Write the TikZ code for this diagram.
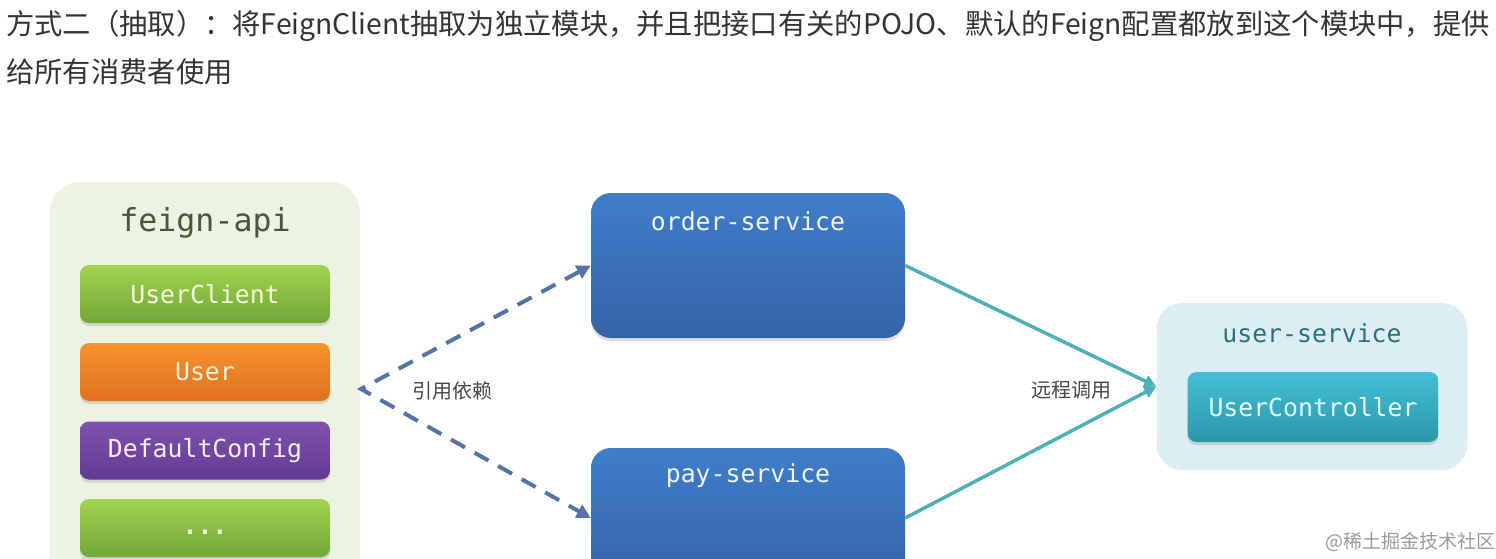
\documentclass[tikz,border=0pt]{standalone}
\usepackage{fontspec}
\newfontfamily\cjk{Noto Sans CJK SC}
\newfontfamily\mono{DejaVu Sans Mono}
\usetikzlibrary{shadows,arrows.meta}
\definecolor{apibg}{HTML}{EDF3E2}
\definecolor{apititle}{HTML}{46573A}
\definecolor{grtop}{HTML}{A2D24E}
\definecolor{grbot}{HTML}{72A73A}
\definecolor{grtxt}{HTML}{F3F9DA}
\definecolor{ortop}{HTML}{F7922E}
\definecolor{orbot}{HTML}{E0721F}
\definecolor{ortxt}{HTML}{FFF3E0}
\definecolor{putop}{HTML}{7E52AE}
\definecolor{pubot}{HTML}{623A93}
\definecolor{putxt}{HTML}{F7EEFF}
\definecolor{bltop}{HTML}{3F7DCA}
\definecolor{blbot}{HTML}{3563A7}
\definecolor{bltxt}{HTML}{F0F6FF}
\definecolor{usbg}{HTML}{DCEEF3}
\definecolor{ustitle}{HTML}{2F6E78}
\definecolor{uctop}{HTML}{44C0D6}
\definecolor{ucbot}{HTML}{2A96AA}
\definecolor{uctxt}{HTML}{E8FBFF}
\definecolor{depcol}{HTML}{5573A6}
\definecolor{callcol}{HTML}{4DB0B5}
\definecolor{titletxt}{HTML}{333333}
\definecolor{wmcol}{HTML}{9A9A9A}
\tikzset{
  monofont/.style={font=\mono\fontsize{24.8}{30}\selectfont},
  container/.style={draw=none, rounded corners=30pt, inner sep=0pt},
  blockbox/.style={draw=none, rounded corners=9pt, inner sep=0pt,
    minimum width=250pt, minimum height=58pt, monofont,
    drop shadow={opacity=0.25, shadow xshift=0pt, shadow yshift=-3pt}},
  greenbox/.style={blockbox, top color=grtop, bottom color=grbot, text=grtxt},
  orangebox/.style={blockbox, top color=ortop, bottom color=orbot, text=ortxt},
  purplebox/.style={blockbox, top color=putop, bottom color=pubot, text=putxt},
  svcbox/.style={draw=none, rounded corners=20pt, inner sep=0pt,
    minimum width=314pt, top color=bltop, bottom color=blbot,
    drop shadow={opacity=0.25, shadow xshift=0pt, shadow yshift=-3pt}},
  svclabel/.style={monofont, text=bltxt, inner sep=0pt},
  ucbox/.style={blockbox, minimum width=251pt, minimum height=70pt,
    top color=uctop, bottom color=ucbot, text=uctxt},
  deparrow/.style={draw=depcol, line width=4pt, dash pattern=on 16pt off 11pt,
    {Triangle[length=14pt,width=14pt]}-{Triangle[length=14pt,width=14pt]}},
  callarrow/.style={draw=callcol, line width=3.5pt,
    -{Triangle[length=12pt,width=12pt]}},
  cjklabel/.style={font=\cjk\fontsize{20}{24}\selectfont, text=titletxt!90, inner sep=0pt},
}
\begin{document}
\begin{tikzpicture}[x=1pt,y=-1pt]
\useasboundingbox (0,0) rectangle (1496,559);
\clip (0,0) rectangle (1496,559);
% title
\node[font=\cjk\fontsize{28.3}{33}\selectfont, text=titletxt, anchor=west, inner sep=0pt] (t1) at (6,26)
  {方式二（抽取）：将FeignClient抽取为独立模块，并且把接口有关的POJO、默认的Feign配置都放到这个模块中，提供};
\node[font=\cjk\fontsize{28.3}{33}\selectfont, text=titletxt, anchor=west, inner sep=0pt] (t2) at (6,72)
  {给所有消费者使用};
% feign-api container
\node[container, fill=apibg, minimum width=310pt, minimum height=420pt] (api) at (205,392) {};
\node[font=\mono\fontsize{31.6}{36}\selectfont, text=apititle, inner sep=0pt] (apititle) at (205,223) {feign-api};
\node[greenbox] (uclient) at (205,294) {UserClient};
\node[orangebox] (user) at (205,372) {User};
\node[purplebox] (dconf) at (205,450.5) {DefaultConfig};
\node[greenbox] (more) at (205,528) {\raisebox{-6pt}[0pt][0pt]{\textbf{...}}};
% services
\node[svcbox, minimum height=145pt] (order) at (748,265.5) {};
\node[svclabel] (ordert) at (748,221) {order-service};
\node[svcbox, minimum height=140pt] (pay) at (748,518) {};
\node[svclabel] (payt) at (748,476) {pay-service};
% user-service
\node[container, rounded corners=26pt, fill=usbg, minimum width=311pt, minimum height=167pt] (us) at (1312,386.5) {};
\node[monofont, text=ustitle, inner sep=0pt] (ust) at (1312,333) {user-service};
\node[ucbox] (uc) at (1313,407) {UserController};
% connectors
\coordinate (dep) at (361,389);
\draw[deparrow] (order.west) -- (dep) -- (pay.west);
\node[cjklabel] (deplabel) at (452,391) {引用依赖};
\draw[callarrow] (order.east) -- (us.west);
\draw[callarrow] (pay.east) -- (us.west);
\node[cjklabel] (calllabel) at (1071,390) {远程调用};
% watermark
\node[font=\cjk\fontsize{19}{22}\selectfont, text=wmcol, inner sep=0pt] (wm) at (1410,542) {@稀土掘金技术社区};
\end{tikzpicture}
\end{document}
